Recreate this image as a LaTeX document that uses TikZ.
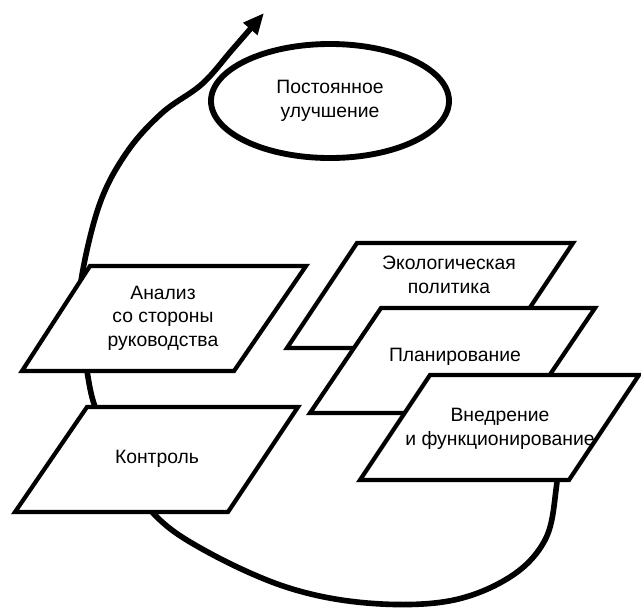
\documentclass[tikz,border=0pt]{standalone}
\usepackage{fontspec}
\setmainfont{Liberation Sans}
\usetikzlibrary{shapes.geometric,arrows.meta}

\tikzset{
  plate/.style={draw,line width=3.6pt,fill=white},
  caption/.style={align=center,inner sep=0pt,font=\fontsize{16.5}{20}\selectfont},
  spiral/.style={line width=4.8pt,-{Triangle[length=18pt,width=15pt]}}
}

\begin{document}
\begin{tikzpicture}[x=0.3mm,y=-0.3mm]
            \useasboundingbox (0,0) rectangle (641,607);

            % the loop, boxes are laid over it
            \draw[spiral] plot[smooth,tension=0.6] coordinates {
                (512,262) (530,305) (551,373) (558,440) (556,490) (545,540)
                (510,577) (449,601) (367,603) (286,587) (204,550) (153,513)
                (115,455) (95,407) (87,371) (80,320) (82,275) (100,203)
                (127,152) (162,113) (202,84) (232,50) (264,13)};

            \node[draw,ellipse,line width=5pt,minimum width=71.4mm,minimum height=34.2mm,caption] (improve) at (330,101) {Постоянное\\улучшение};

            % right column
            \draw[plate] (287,348) -- (357,243) -- (573,243) -- (503,348) -- cycle;
            \node[caption] (policy) at (449,275) {Экологическая\\политика};

            \draw[plate] (310,413) -- (381,308) -- (595,308) -- (524,413) -- cycle;
            \node[caption] (planning) at (455,357) {Планирование};

            \draw[plate] (360,480) -- (430,375) -- (639,375) -- (569,480) -- cycle;
            \node[caption] (operation) at (500,429) {Внедрение\\и функционирование};

            % left column
            \draw[plate] (22,371) -- (90,266) -- (306,266) -- (234,371) -- cycle;
            \node[caption] (review) at (163,318) {Анализ\\со стороны\\руководства};

            \draw[plate] (15,512) -- (87,407) -- (298,407) -- (228,512) -- cycle;
            \node[caption] (checking) at (157,459) {Контроль};
\end{tikzpicture}
\end{document}
